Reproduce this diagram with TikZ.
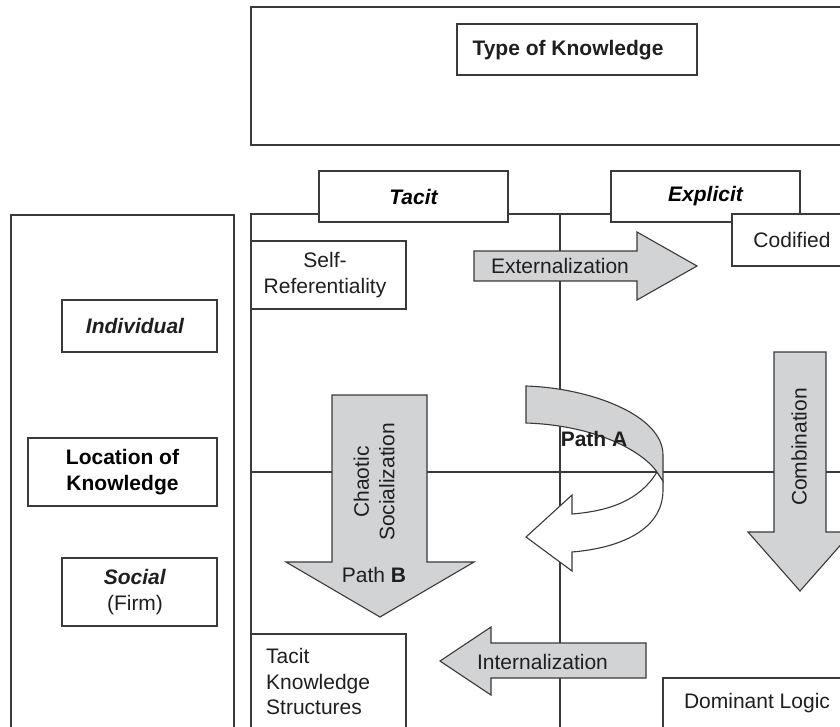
\documentclass[tikz,border=0pt]{standalone}
\usepackage{fontspec}
\setmainfont{Liberation Sans}
\definecolor{lc}{HTML}{3A3A3A}
\definecolor{gf}{HTML}{D2D3D5}
\begin{document}
\begin{tikzpicture}[x=1pt,y=-1pt,
  ln/.style={draw=lc, line width=1.1pt},
  box/.style={ln, fill=white, rectangle, inner sep=0pt, align=center, font=\fontsize{21}{25.5}\selectfont},
  garrow/.style={ln, fill=gf, line join=miter},
  lbl/.style={inner sep=0pt, align=center, font=\fontsize{21}{25.5}\selectfont, text=black!88}]
\useasboundingbox (0,0) rectangle (840,726);
\clip (0,0) rectangle (840,726);
\fill[white] (0,0) rectangle (840,726);
% top area
\node[box, minimum width=609pt, minimum height=138pt] (top) at (555.5,76) {};
\node[box, minimum width=240pt, minimum height=51pt] (typebox) at (577,49.5) {};
\node[lbl, font=\fontsize{21}{25.5}\selectfont\bfseries] (typelbl) at (568,50) {Type of Knowledge};
% left column
\node[box, minimum width=223pt, minimum height=545pt] (leftcol) at (122.5,487.5) {};
% grid
\node[box, minimum width=609pt, minimum height=546pt] (grid) at (555.5,487) {};
\coordinate (vt) at (560,214);
\coordinate (vb) at (560,760);
\coordinate (hl) at (251,472);
\coordinate (hr) at (860,472);
\draw[ln] (vt) -- (vb);
\draw[ln] (hl) -- (hr);
% column headers
\node[box, minimum width=189pt, minimum height=51pt, font=\fontsize{21}{25.5}\selectfont\bfseries\itshape] (tacit) at (413.5,196.5) {Tacit};
\node[box, minimum width=189pt, minimum height=51pt, font=\fontsize{21}{25.5}\selectfont\bfseries\itshape] (explicit) at (705.5,196.5) {Explicit};
\node[box, minimum width=128pt, minimum height=52pt] (codbox) at (796,240) {};
\node[lbl] (codlbl) at (792,240) {Codified};
% corner boxes
\node[box, minimum width=155pt, minimum height=68pt] (selfbox) at (328.5,275) {};
\node[lbl] (selflbl) at (325,275) {Self-\\Referentiality};
\node[box, minimum width=155pt, minimum height=126pt] (tksbox) at (328.5,697) {};
\node[lbl, anchor=west, align=left] (tkslbl) at (266,681.5) {Tacit\\Knowledge\\Structures};
\node[box, minimum width=197pt, minimum height=82pt] (dombox) at (761.5,719) {};
\node[lbl] (domlbl) at (757,703) {Dominant Logic};
% row labels
\node[box, minimum width=155pt, minimum height=52pt] (indbox) at (139.5,326) {};
\node[lbl, font=\fontsize{21}{25.5}\selectfont\bfseries\itshape] (indlbl) at (135,326) {Individual};
\node[box, minimum width=189pt, minimum height=68pt, font=\fontsize{21}{25.5}\selectfont\bfseries] (locbox) at (122.5,472) {Location of\\Knowledge};
\node[box, minimum width=155pt, minimum height=68pt] (socbox) at (139.5,592) {};
\node[lbl] (soclbl) at (135,592) {\textbf{\textit{Social}}\\(Firm)};
% block arrows
\draw[garrow] (474,251) -- (637,251) -- (637,232) -- (697,266) -- (637,300) -- (637,281) -- (474,281) -- cycle;
\node[lbl] (extlbl) at (560,266) {Externalization};
\draw[garrow] (646,643) -- (491,643) -- (491,627) -- (440,661) -- (491,695) -- (491,678) -- (646,678) -- cycle;
\node[lbl] (intlbl) at (542.5,662) {Internalization};
\draw[garrow] (332,395) -- (427,395) -- (427,562) -- (474,562) -- (380,617) -- (286,562) -- (332,562) -- cycle;
\node[lbl, rotate=90] (chalbl) at (374,482) {Chaotic\\Socialization};
\node[lbl] (pathb) at (374,575) {Path \textbf{B}};
\draw[garrow] (774,352) -- (826,352) -- (826,532) -- (852,532) -- (800,591) -- (748,532) -- (774,532) -- cycle;
\node[lbl, rotate=90] (comblbl) at (799,447) {Combination};
% Path A ribbon
\draw[ln, fill=white, line join=miter] (657,472) -- (663,481) -- (663,490) .. controls (663,530) and (620,548) .. (572,552)
   -- (572,571) -- (526,537) -- (572,495) -- (572,514) .. controls (610,511) and (640,500) .. (657,472) -- cycle;
\draw[ln, fill=gf, line join=miter] (526,386) .. controls (590,388) and (663,415) .. (663,455) -- (663,481) -- (657,472)
   .. controls (640,448) and (590,425) .. (526,423) -- cycle;
\node[lbl, font=\fontsize{21}{25.5}\selectfont\bfseries] (patha) at (594,439) {Path A};
\end{tikzpicture}
\end{document}
